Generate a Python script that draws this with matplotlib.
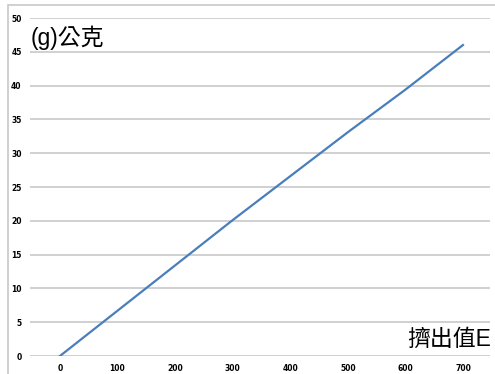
import matplotlib
matplotlib.use("Agg")
import matplotlib.pyplot as plt
from matplotlib.patches import Rectangle

plt.rcParams['font.family'] = ['Noto Sans CJK TC', 'DejaVu Sans']

# extrusion value vs grams
extrusion = [0, 100, 200, 300, 400, 500, 600, 700]
grams = [0, 6.7, 13.4, 20.1, 26.6, 33.1, 39.4, 46.0]

x_ticks = [0, 100, 200, 300, 400, 500, 600, 700]
y_ticks = [0, 5, 10, 15, 20, 25, 30, 35, 40, 45, 50]

fig = plt.figure(figsize=(4.95, 3.74), dpi=100)
ax = fig.add_axes([30/495, 18/374, 460/495, 338/374])

# outer frame of the slide picture
fig.patches.append(Rectangle((8/495, -0.1), 1.2, (374-5)/374 + 0.1,
                             transform=fig.transFigure, fill=False,
                             edgecolor="#c8c8c8", linewidth=1.2))

for y in y_ticks:
    ax.axhline(y, color="#c8c8c8", linewidth=1.2, zorder=1)

ax.plot(extrusion, grams, color="#4a7ebb", linewidth=1.6, zorder=3)

ax.set_xlim(-52, 747)
ax.set_ylim(0, 50)
ax.set_xticks(x_ticks)
ax.set_yticks(y_ticks)
ax.tick_params(length=0, labelsize=5.5, pad=6)
for lab in ax.get_xticklabels() + ax.get_yticklabels():
    lab.set_fontweight("bold")
    lab.set_family("DejaVu Sans")
for s in ax.spines.values():
    s.set_visible(False)
ax.patch.set_alpha(0)

mixed = ['Liberation Sans', 'Noto Sans CJK TC']
fig.text(31/495, 1 - 38/374, "(g)公克", fontsize=16.5, va="center",
         ha="left", family=mixed)
fig.text(491/495, 1 - 339/374, "擠出值E", fontsize=16.5, va="center",
         ha="right", family=mixed)

fig.savefig("out.png", dpi=100)
